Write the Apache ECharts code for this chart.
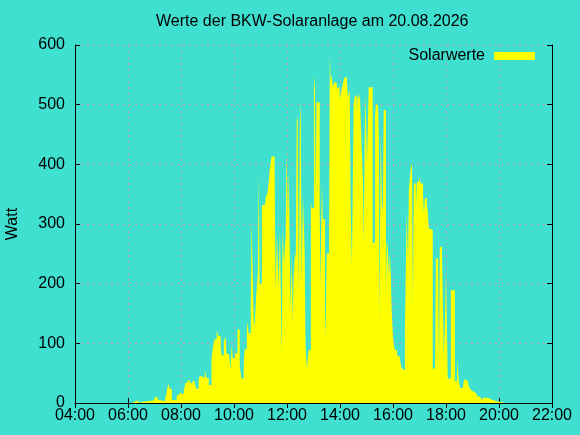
<!DOCTYPE html>
<html>
<head>
<meta charset="utf-8">
<script src="https://cdn.jsdelivr.net/npm/echarts@6/dist/echarts.min.js"></script>
<style>html,body{margin:0;padding:0;background:#40e0d0;}#c{width:580px;height:435px;}</style>
</head>
<body>
<div id="c"></div>
<script>
const chartTitle = 'Werte der BKW-Solaranlage am 20.08.2026';
const seriesName = 'Solarwerte';
const yAxisName = 'Watt';
const xTickLabels = ['04:00','06:00','08:00','10:00','12:00','14:00','16:00','18:00','20:00','22:00'];
const yTicks = [0, 100, 200, 300, 400, 500, 600];

// Sample times (step-wise readings) and watt values
const times = [
 '06:00','06:10','06:17','06:19','06:24','06:28','06:33','06:37','06:44','06:47',
 '06:58','07:02','07:07','07:11','07:23','07:27','07:30','07:32','07:34','07:39',
 '07:41','07:50','07:52','07:57','08:01','08:06','08:08','08:10','08:15','08:20',
 '08:22','08:24','08:26','08:31','08:35','08:40','08:42','08:47','08:51','08:54',
 '08:58','09:03','09:09','09:12','09:16','09:21','09:25','09:30','09:32','09:37',
 '09:41','09:43','09:48','09:52','09:55','09:57','10:02','10:08','10:13','10:17',
 '10:22','10:24','10:29','10:31','10:33','10:38','10:40','10:42','10:45','10:47',
 '10:51','10:54','10:56','10:58','11:03','11:10','11:12','11:16','11:19','11:21',
 '11:25','11:32','11:34','11:37','11:41','11:44','11:48','11:50','11:53','11:57',
 '11:59','12:02','12:04','12:08','12:11','12:13','12:15','12:18','12:20','12:22',
 '12:24','12:27','12:29','12:31','12:33','12:36','12:40','12:42','12:45','12:47',
 '12:49','12:54','12:56','13:01','13:03','13:05','13:07','13:14','13:16','13:19',
 '13:21','13:26','13:28','13:30','13:35','13:37','13:39','13:41','13:44','13:48',
 '13:50','13:53','13:57','13:59','14:02','14:06','14:09','14:13','14:15','14:18',
 '14:22','14:24','14:27','14:29','14:31','14:33','14:36','14:38','14:40','14:43',
 '14:45','14:49','14:52','14:54','14:56','14:58','15:01','15:03','15:05','15:14',
 '15:19','15:21','15:26','15:28','15:30','15:32','15:35','15:37','15:39','15:44',
 '15:46','15:48','15:51','15:53','15:55','15:57','16:00','16:04','16:09','16:11',
 '16:16','16:18','16:20','16:22','16:27','16:31','16:34','16:36','16:40','16:43',
 '16:45','16:47','16:52','16:54','16:59','17:01','17:03','17:08','17:10','17:12',
 '17:17','17:19','17:21','17:24','17:30','17:35','17:37','17:42','17:44','17:46',
 '17:51','17:55','17:58','18:00','18:04','18:11','18:20','18:25','18:29','18:32',
 '18:38','18:41','18:45','18:50','18:52','18:56','18:59','19:03','19:06','19:10',
 '19:17','19:21','19:24','19:35','19:42','19:55','20:02','20:14'
];
const watts = [
 0, 3, 1, 4, 0, 2, 0, 3, 2, 4,
 7, 10, 6, 3, 6, 16, 28, 32, 24, 6,
 4, 9, 14, 19, 15, 20, 26, 34, 38, 34,
 37, 33, 37, 31, 24, 38, 45, 47, 42, 55,
 42, 30, 75, 92, 107, 121, 112, 94, 80, 103,
 111, 82, 86, 58, 99, 75, 83, 123, 62, 41,
 64, 90, 122, 136, 117, 173, 307, 225, 128, 136,
 188, 217, 387, 200, 332, 330, 345, 352, 373, 393,
 413, 389, 184, 284, 195, 290, 80, 294, 234, 282,
 420, 309, 390, 156, 251, 131, 209, 251, 242, 473,
 481, 175, 464, 506, 202, 349, 254, 97, 57, 75,
 89, 337, 327, 525, 550, 346, 504, 320, 195, 371,
 308, 111, 145, 251, 206, 583, 538, 550, 530, 538,
 536, 527, 530, 510, 519, 533, 544, 547, 550, 513,
 525, 335, 228, 374, 501, 513, 516, 484, 516, 510,
 518, 428, 374, 262, 449, 517, 404, 460, 529, 268,
 477, 500, 499, 449, 131, 452, 337, 320, 491, 177,
 270, 263, 212, 251, 214, 156, 108, 89, 83, 78,
 72, 64, 58, 55, 122, 320, 234, 357, 393, 402,
 161, 368, 329, 371, 379, 382, 368, 349, 318, 343,
 332, 318, 293, 290, 58, 50, 242, 251, 53, 262,
 251, 78, 150, 220, 41, 189, 37, 74, 37, 25,
 22, 40, 37, 33, 27, 22, 19, 16, 15, 11,
 8, 5, 9, 6, 3, 2, 1, 0
];

function toMin(s){ const p = s.split(':'); return (+p[0])*60 + (+p[1]); }
function fmt(m){ const h = Math.floor(m/60), mm = m%60; return (h<10?'0':'')+h+':'+(mm<10?'0':'')+mm; }
const data = times.map((t,i)=>[toMin(t), watts[i]]);
const xMin = toMin(xTickLabels[0]), xMax = toMin(xTickLabels[xTickLabels.length-1]);

const font = 'Liberation Sans';
const fs = 16;
const gridLine = {show:true, lineStyle:{color:'#b8a0a8', type:[2,4], width:1}};
const axisLine = {show:true, lineStyle:{color:'#000', width:1}};
const tick = {show:true, inside:true, length:5, lineStyle:{color:'#000'}};

const chart = echarts.init(document.getElementById('c'), null, {renderer:'canvas'});
chart.setOption({
  animation:false,
  backgroundColor:'#40e0d0',
  textStyle:{fontFamily:font},
  title:{text:chartTitle, left:151, top:9, textStyle:{fontFamily:font, fontSize:fs, fontWeight:'normal', color:'#000'}},
  legend:{data:[seriesName], right:40, top:43, align:'right', icon:'rect', itemWidth:41, itemHeight:8, itemGap:0,
    textStyle:{fontFamily:font, fontSize:fs, color:'#000', padding:[0,4,0,0]}},
  grid:{left:75, right:28, top:45, bottom:32, containLabel:false, outerBoundsMode:'none'},
  xAxis:[{
    type:'value', min:xMin, max:xMax, interval:120, position:'bottom',
    axisLine:axisLine, axisTick:tick,
    axisLabel:{fontFamily:font, fontSize:fs, color:'#000', margin:5, formatter:v=>fmt(v)},
    splitLine:gridLine
  },{
    type:'value', min:xMin, max:xMax, interval:120, position:'top',
    axisLine:axisLine, axisTick:tick,
    axisLabel:{show:false}, splitLine:{show:false}
  }],
  yAxis:[{
    type:'value', min:yTicks[0], max:yTicks[yTicks.length-1], interval:100, position:'left',
    name:yAxisName, nameLocation:'middle', nameGap:54, nameRotate:90,
    nameTextStyle:{fontFamily:font, fontSize:fs, color:'#000'},
    axisLine:axisLine, axisTick:tick,
    axisLabel:{fontFamily:font, fontSize:fs, color:'#000', margin:10},
    splitLine:gridLine
  },{
    type:'value', min:yTicks[0], max:yTicks[yTicks.length-1], interval:100, position:'right',
    axisLine:axisLine, axisTick:tick,
    axisLabel:{show:false}, splitLine:{show:false}
  }],
  series:[{
    name:seriesName, type:'line', step:'end', data:data, xAxisIndex:0, yAxisIndex:0,
    showSymbol:false, symbol:'none',
    itemStyle:{color:'#ffff00'},
    lineStyle:{width:0, color:'#ffff00'},
    areaStyle:{color:'#ffff00', opacity:1},
    z:1
  }]
});
</script>
</body>
</html>
